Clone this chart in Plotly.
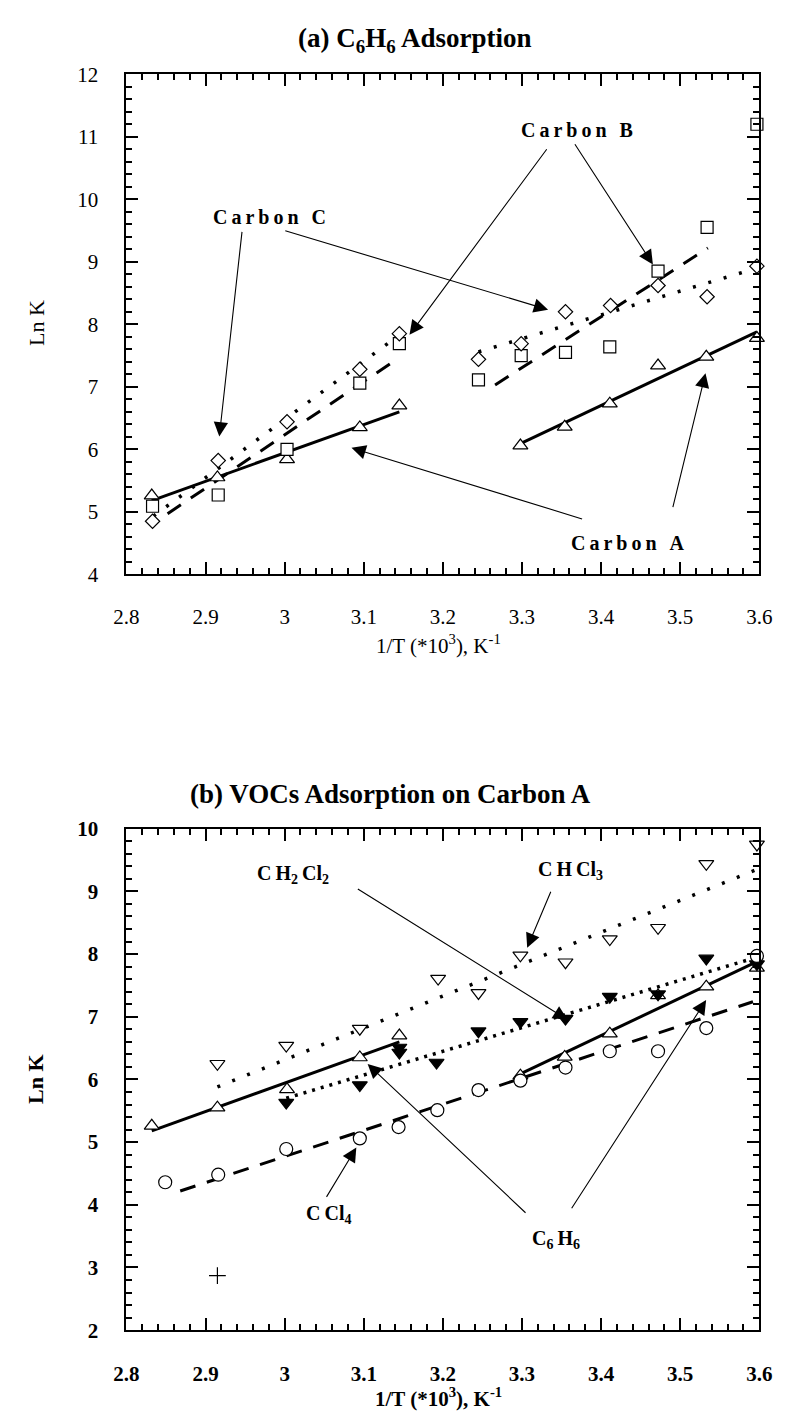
import plotly.graph_objects as go

# ---------------- data: (a) benzene adsorption on three carbons ----------------
inv_T_A = [2.832, 2.915, 3.003, 3.095, 3.145, 3.298, 3.354, 3.411, 3.472, 3.533, 3.597]
lnK_A = [5.26, 5.55, 5.84, 6.35, 6.70, 6.06, 6.36, 6.73, 7.34, 7.48, 7.78]

inv_T_B = [2.833, 2.916, 3.003, 3.095, 3.145, 3.245, 3.299, 3.355, 3.411, 3.472, 3.534, 3.597]
lnK_B = [5.09, 5.27, 6.00, 7.06, 7.69, 7.11, 7.50, 7.55, 7.64, 8.85, 9.55, 11.20]

inv_T_C = [2.833, 2.916, 3.003, 3.095, 3.145, 3.245, 3.299, 3.355, 3.412, 3.472, 3.534, 3.597]
lnK_C = [4.85, 5.82, 6.44, 7.28, 7.85, 7.44, 7.69, 8.20, 8.30, 8.62, 8.44, 8.93]

# fitted straight lines (two temperature regions each)
fitA_x = [[2.832, 3.145], [3.298, 3.597]]
fitA_y = [[5.18, 6.60], [6.09, 7.88]]
fitB_x = [[2.852, 3.144], [3.266, 3.535]]
fitB_y = [[4.97, 7.46], [7.03, 9.22]]
fitC_x = [[2.834, 3.144], [3.245, 3.597]]
fitC_y = [[4.93, 7.82], [7.56, 8.90]]

# ---------------- data: (b) VOCs on carbon A ----------------
inv_T_CHCl3 = [2.915, 3.002, 3.095, 3.194, 3.245, 3.298, 3.355, 3.411, 3.472, 3.533, 3.597]
lnK_CHCl3 = [6.25, 6.54, 6.81, 7.61, 7.38, 7.98, 7.87, 8.24, 8.42, 9.44, 9.75]

inv_T_CH2Cl2 = [3.002, 3.095, 3.145, 3.145, 3.192, 3.245, 3.298, 3.355, 3.411, 3.472, 3.533, 3.597]
lnK_CH2Cl2 = [5.63, 5.91, 6.51, 6.43, 6.27, 6.77, 6.92, 6.97, 7.32, 7.36, 7.93, 7.84]

inv_T_CCl4 = [2.849, 2.916, 3.002, 3.095, 3.144, 3.193, 3.245, 3.298, 3.355, 3.411, 3.472, 3.533, 3.597]
lnK_CCl4 = [4.36, 4.48, 4.89, 5.06, 5.24, 5.51, 5.83, 5.98, 6.19, 6.45, 6.45, 6.82, 7.97]

inv_T_extra = [2.915]
lnK_extra = [2.87]

fitCHCl3_x = [2.915, 3.597]
fitCHCl3_y = [5.88, 9.35]
fitCH2Cl2_x = [3.002, 3.597]
fitCH2Cl2_y = [5.70, 7.95]
fitCCl4_x = [2.868, 3.592]
fitCCl4_y = [4.22, 7.24]

# ---------------- figure ----------------
W, H = 790, 1427
SERIF = "Liberation Serif"
fig = go.Figure()


def marker_trace(x, y, symbol, size, xa, ya, filled=False):
    return go.Scatter(
        x=x, y=y, mode="markers", xaxis=xa, yaxis=ya, cliponaxis=False,
        marker=dict(symbol=symbol, size=size,
                    color="black" if filled else "white",
                    line=dict(color="black", width=1.2)),
        showlegend=False, hoverinfo="skip")


def line_trace(x, y, dash, width, xa, ya):
    return go.Scatter(
        x=x, y=y, mode="lines", xaxis=xa, yaxis=ya, cliponaxis=False,
        line=dict(color="black", width=width, dash=dash),
        showlegend=False, hoverinfo="skip")


# panel (a): fitted lines first, markers on top
for xs, ys in zip(fitA_x, fitA_y):
    fig.add_trace(line_trace(xs, ys, "solid", 3, "x", "y"))
for xs, ys in zip(fitB_x, fitB_y):
    fig.add_trace(line_trace(xs, ys, "16px,12px", 3, "x", "y"))
for xs, ys in zip(fitC_x, fitC_y):
    fig.add_trace(line_trace(xs, ys, "3px,13px", 3.5, "x", "y"))
fig.add_trace(marker_trace(inv_T_A, lnK_A, "triangle-up", 13, "x", "y"))
fig.add_trace(marker_trace(inv_T_B, lnK_B, "square", 12, "x", "y"))
fig.add_trace(marker_trace(inv_T_C, lnK_C, "diamond", 11, "x", "y"))

# panel (b)
for xs, ys in zip(fitA_x, fitA_y):
    fig.add_trace(line_trace(xs, ys, "solid", 3, "x2", "y2"))
fig.add_trace(line_trace(fitCHCl3_x, fitCHCl3_y, "3px,13px", 3.5, "x2", "y2"))
fig.add_trace(line_trace(fitCH2Cl2_x, fitCH2Cl2_y, "3px,6px", 3.5, "x2", "y2"))
fig.add_trace(line_trace(fitCCl4_x, fitCCl4_y, "16px,12px", 3, "x2", "y2"))
fig.add_trace(marker_trace(inv_T_A, lnK_A, "triangle-up", 13, "x2", "y2"))
fig.add_trace(marker_trace(inv_T_CHCl3, lnK_CHCl3, "triangle-down", 13, "x2", "y2"))
fig.add_trace(marker_trace(inv_T_CH2Cl2, lnK_CH2Cl2, "triangle-down", 13, "x2", "y2", filled=True))
fig.add_trace(marker_trace(inv_T_CCl4, lnK_CCl4, "circle", 13, "x2", "y2"))
fig.add_trace(go.Scatter(x=inv_T_extra, y=lnK_extra, mode="markers", xaxis="x2", yaxis="y2",
                         marker=dict(symbol="cross-thin-open", size=12, color="black",
                                     line=dict(color="black", width=1.2)),
                         showlegend=False, hoverinfo="skip"))


def px_x(px):
    return px / W


def px_y(py):
    return 1 - py / H


def axis(rng, dtick, mdtick, domain, anchor, bold, standoff):
    return dict(
        range=rng, dtick=dtick, tick0=rng[0], domain=domain, anchor=anchor,
        ticks="inside", ticklen=12, tickwidth=2, tickcolor="black",
        showline=True, linewidth=2, linecolor="black", mirror="ticks",
        showgrid=False, zeroline=False, fixedrange=True,
        ticklabelstandoff=standoff,
        minor=dict(ticks="inside", dtick=mdtick, tick0=rng[0], ticklen=6,
                   tickwidth=1.5, tickcolor="black", showgrid=False),
        tickfont=dict(family=SERIF, size=21, color="black",
                      weight="bold" if bold else "normal"),
    )


xdom = [px_x(117.3), px_x(771.7)]
fig.update_layout(
    width=W, height=H, margin=dict(l=0, r=0, t=0, b=0),
    paper_bgcolor="white", plot_bgcolor="white", showlegend=False,
    xaxis=axis([2.8, 3.6], 0.1, 0.02, xdom, "y", False, 22),
    yaxis=axis([4, 12], 1, 0.2, [px_y(572), px_y(63.3)], "x", False, 22),
    xaxis2=axis([2.8, 3.6], 0.1, 0.02, xdom, "y2", True, 24),
    yaxis2=axis([2, 10], 1, 0.2, [px_y(1340.7), px_y(830.7)], "x2", True, 22),
)

ann = []


def text_paper(txt, px, py, size, bold=True, angle=0):
    ann.append(dict(text=txt, x=px_x(px), y=px_y(py), xref="paper", yref="paper",
                    showarrow=False, textangle=angle, xanchor="center", yanchor="middle",
                    font=dict(family=SERIF, size=size, color="black",
                              weight="bold" if bold else "normal")))


def text_data(txt, x, y, xa, ya, size=20):
    ann.append(dict(text=txt, x=x, y=y, xref=xa, yref=ya, showarrow=False,
                    xanchor="center", yanchor="middle",
                    font=dict(family=SERIF, size=size, color="black", weight="bold")))


def arrow(tip, tail, xa, ya):
    ann.append(dict(text="", x=tip[0], y=tip[1], ax=tail[0], ay=tail[1],
                    xref=xa, yref=ya, axref=xa, ayref=ya, showarrow=True,
                    arrowhead=2, arrowsize=2.6, arrowwidth=1.1, arrowcolor="black",
                    standoff=0, startstandoff=0))


# titles and axis titles
text_paper("(a) C<sub>6</sub>H<sub>6</sub> Adsorption", 415, 28, 27)
text_paper("(b) VOCs Adsorption on Carbon A", 390, 795, 27)
text_paper("1/T (*10<sup>3</sup>), K<sup>-1</sup>", 440, 643, 21, bold=False)
text_paper("1/T (*10<sup>3</sup>), K<sup>-1</sup>", 440, 1409, 21)
text_paper("Ln K", 24, 316, 22, bold=False, angle=-90)
text_paper("Ln K", 24, 1085, 22, angle=-90)

# panel (a) labels (letter-spaced, bold)
sp = "\u2009"
text_data(sp.join("Carbon C"), 2.981, 9.72, "x", "y")
text_data(sp.join("Carbon B"), 3.369, 11.11, "x", "y")
text_data(sp.join("Carbon A"), 3.434, 4.50, "x", "y")
arrow((2.9174, 6.206), (2.9463, 9.503), "x", "y")
arrow((3.333, 8.234), (2.9989, 9.503), "x", "y")
arrow((3.1578, 7.832), (3.3327, 10.824), "x", "y")
arrow((3.4655, 8.958), (3.3657, 10.903), "x", "y")
arrow((3.0845, 6.024), (3.3779, 4.88), "x", "y")
arrow((3.532, 7.218), (3.4903, 5.053), "x", "y")

# panel (b) labels
text_data("C" + sp + "H<sub>2</sub>" + sp + "Cl<sub>2</sub>", 3.011, 9.27, "x2", "y2")
text_data("C" + sp + "H" + sp + "Cl<sub>3</sub>", 3.361, 9.34, "x2", "y2")
text_data("C" + sp + "Cl<sub>4</sub>", 3.055, 3.85, "x2", "y2")
text_data("C<sub>6</sub>" + sp + "H<sub>6</sub>", 3.3436, 3.45, "x2", "y2")
arrow((3.3575, 6.952), (3.0906, 9.054), "x2", "y2")
arrow((3.3066, 8.102), (3.3372, 9.018), "x2", "y2")
arrow((3.0906, 4.913), (3.0518, 4.102), "x2", "y2")
arrow((3.1049, 6.246), (3.3064, 3.851), "x2", "y2")
arrow((3.5328, 7.266), (3.3616, 3.92), "x2", "y2")

fig.update_layout(annotations=ann)
fig.write_html("out.html")
